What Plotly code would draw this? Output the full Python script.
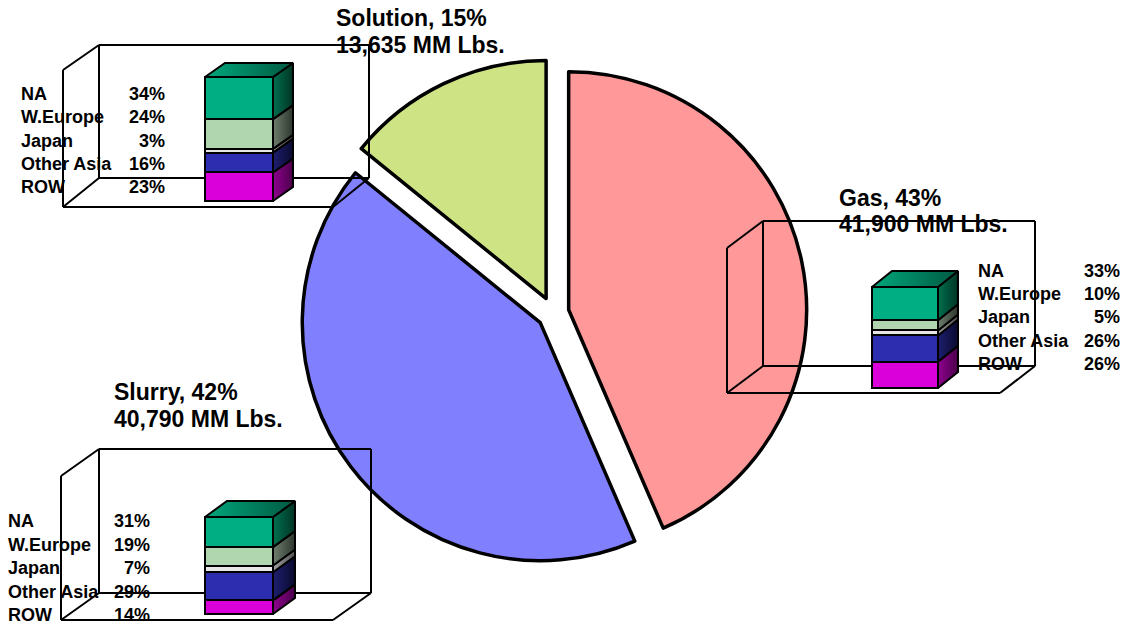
import plotly.graph_objects as go

W, H = 1130, 624

# ---------------- data ----------------
pie_labels = ["Gas", "Slurry", "Solution"]
pie_values = [41900, 40790, 13635]
pie_pct = [43, 42, 15]
pie_colors = ["#FF9999", "#8080FF", "#CDE384"]

regions = ["NA", "W.Europe", "Japan", "Other Asia", "ROW"]
gas_share = [33, 10, 5, 26, 26]
slurry_share = [31, 19, 7, 29, 14]
solution_share = [34, 24, 3, 16, 23]

# ---------------- styles ----------------
FONT = "Liberation Sans, Arial, sans-serif"
front_col = {"NA": "#00AE84", "W.Europe": "#B0D6B0", "Japan": "#E6E6E6",
             "Other Asia": "#2D2DB0", "ROW": "#DA00DA"}
side_grad = {"NA": ["#00704F", "#003424"], "W.Europe": ["#6E7E6E", "#2E362E"],
             "Japan": ["#A0A0A0", "#505050"], "Other Asia": ["#1E1E70", "#0A0A2E"],
             "ROW": ["#8E008E", "#4A004A"]}
top_grad = ["#00A77C", "#005A42"]


def px(x):
    return x / W


def py(y):
    return 1 - y / H


fig = go.Figure()

# ---------------- pie ----------------
pull = 16 / 238
cx, cy, side = 553, 313, 2 * 238 * (1 + pull)
fig.add_trace(go.Pie(
    labels=pie_labels, values=pie_values, sort=False, direction="clockwise",
    rotation=0, pull=[pull] * 3, textinfo="none", hoverinfo="label+value",
    marker=dict(colors=pie_colors, line=dict(color="black", width=3.5)),
    domain=dict(x=[px(cx - side / 2), px(cx + side / 2)],
                y=[py(cy + side / 2), py(cy - side / 2)]),
    showlegend=False,
))

# ---------------- inset stacked bars ----------------
# geometry: front left px, front width, bottom px, top px, depth dx, depth dy
insets = [
    ("Solution", solution_share, dict(xl=205, fw=68, bot=201, top=77, dx=20, dy=14)),
    ("Gas", gas_share, dict(xl=872, fw=66, bot=388, top=287, dx=20, dy=16)),
    ("Slurry", slurry_share, dict(xl=205, fw=68, bot=614, top=517, dx=22, dy=16)),
]

layout_axes = {}
PAD = 4
for k, (name, share, g) in enumerate(insets, start=2):
    ppu = (g["bot"] - g["top"]) / 100.0
    dyu = g["dy"] / ppu
    xa, ya = f"x{k}", f"y{k}"
    layout_axes[f"xaxis{k}"] = dict(
        domain=[px(g["xl"] - PAD), px(g["xl"] + g["fw"] + g["dx"] + PAD)],
        range=[-PAD, g["fw"] + g["dx"] + PAD], visible=False, fixedrange=True,
        anchor=ya)
    layout_axes[f"yaxis{k}"] = dict(
        domain=[py(g["bot"] + PAD), py(g["top"] - g["dy"] - PAD)],
        range=[-PAD / ppu, 100 + dyu + PAD / ppu], visible=False, fixedrange=True,
        anchor=xa)
    # stacked from bottom (ROW) to top (NA)
    order = list(range(len(regions)))[::-1]
    base = 0.0
    for i in order:
        r, v = regions[i], share[i]
        fig.add_trace(go.Bar(
            x=[g["fw"] / 2], y=[v], width=[g["fw"]], xaxis=xa, yaxis=ya,
            marker=dict(color=front_col[r], line=dict(color="black", width=2)),
            name=r, showlegend=False, hoverinfo="name+y"))
        b, t = base, base + v
        fw, dx = g["fw"], g["dx"]
        fig.add_trace(go.Scatter(
            x=[fw, fw + dx, fw + dx, fw, fw], y=[b, b + dyu, t + dyu, t, b],
            xaxis=xa, yaxis=ya, mode="lines", fill="toself",
            fillgradient=dict(type="horizontal",
                              colorscale=[[0, side_grad[r][0]], [1, side_grad[r][1]]]),
            line=dict(color="black", width=2), showlegend=False, hoverinfo="skip"))
        base = t
    fw, dx = g["fw"], g["dx"]
    fig.add_trace(go.Scatter(
        x=[0, dx, fw + dx, fw, 0], y=[100, 100 + dyu, 100 + dyu, 100, 100],
        xaxis=xa, yaxis=ya, mode="lines", fill="toself",
        fillgradient=dict(type="horizontal",
                          colorscale=[[0, top_grad[0]], [1, top_grad[1]]]),
        line=dict(color="black", width=2), showlegend=False, hoverinfo="skip"))

# ---------------- 3D wireframe boxes ----------------
boxes = [
    # back rect (x0,y0,x1,y1), front-left x, front top y, front bottom y, floor front right x, bar span
    dict(b=(99, 45, 369, 178), fx=63, fy0=70, fy1=207, fx2=333, bar=(205, 293)),
    dict(b=(763, 221, 1035, 366), fx=727, fy0=248, fy1=393, fx2=1000, bar=(872, 958)),
    dict(b=(99, 449, 371, 593), fx=61, fy0=476, fy1=620, fx2=333, bar=(205, 295)),
]
shapes = []


def seg(x0, y0, x1, y1):
    shapes.append(dict(type="line", xref="paper", yref="paper",
                       x0=px(x0), y0=py(y0), x1=px(x1), y1=py(y1),
                       line=dict(color="black", width=2), layer="above"))


for bx in boxes:
    x0, y0, x1, y1 = bx["b"]
    seg(x0, y0, x1, y0)
    seg(x1, y0, x1, y1)
    seg(x0, y0, x0, y1)
    seg(x0, y1, bx["bar"][0], y1)
    seg(bx["bar"][1], y1, x1, y1)
    seg(bx["fx"], bx["fy0"], bx["fx"], bx["fy1"])
    seg(bx["fx"], bx["fy0"], x0, y0)
    seg(bx["fx"], bx["fy1"], x0, y1)
    seg(bx["fx"], bx["fy1"], bx["fx2"], bx["fy1"])
    seg(bx["fx2"], bx["fy1"], x1, y1)

# ---------------- text ----------------
annotations = []


def text(x, y, s, size, xanchor="left"):
    annotations.append(dict(
        x=px(x), y=py(y), xref="paper", yref="paper", text=s, showarrow=False,
        xanchor=xanchor, yanchor="middle",
        font=dict(family=FONT, size=size, color="black", weight="bold")))


big = {"Solution": (334, 17.5, 45), "Gas": (837, 197.5, 224.5), "Slurry": (112, 391.5, 419)}
for name, val, pct in zip(pie_labels, pie_values, pie_pct):
    x, ya, yb = big[name]
    text(x, ya, f"{name}, {pct}%", 23)
    text(x, yb, f"{val:,} MM Lbs.", 23)

legend_pos = {
    "Solution": (19, 167, [94, 117, 141, 164, 187]),
    "Gas": (976, 1122, [270.5, 294, 317, 341, 364]),
    "Slurry": (6, 152, [521, 545, 568, 592, 615]),
}
for name, share, g in insets:
    xl, xr, ys = legend_pos[name]
    for r, v, y in zip(regions, share, ys):
        text(xl, y, r, 18)
        text(xr, y, f"{v}%", 18, xanchor="right")

fig.update_layout(
    width=W, height=H, margin=dict(l=0, r=0, t=0, b=0),
    paper_bgcolor="white", plot_bgcolor="rgba(0,0,0,0)",
    showlegend=False, barmode="stack", bargap=0,
    shapes=shapes, annotations=annotations, **layout_axes)

fig.write_html("out.html")
